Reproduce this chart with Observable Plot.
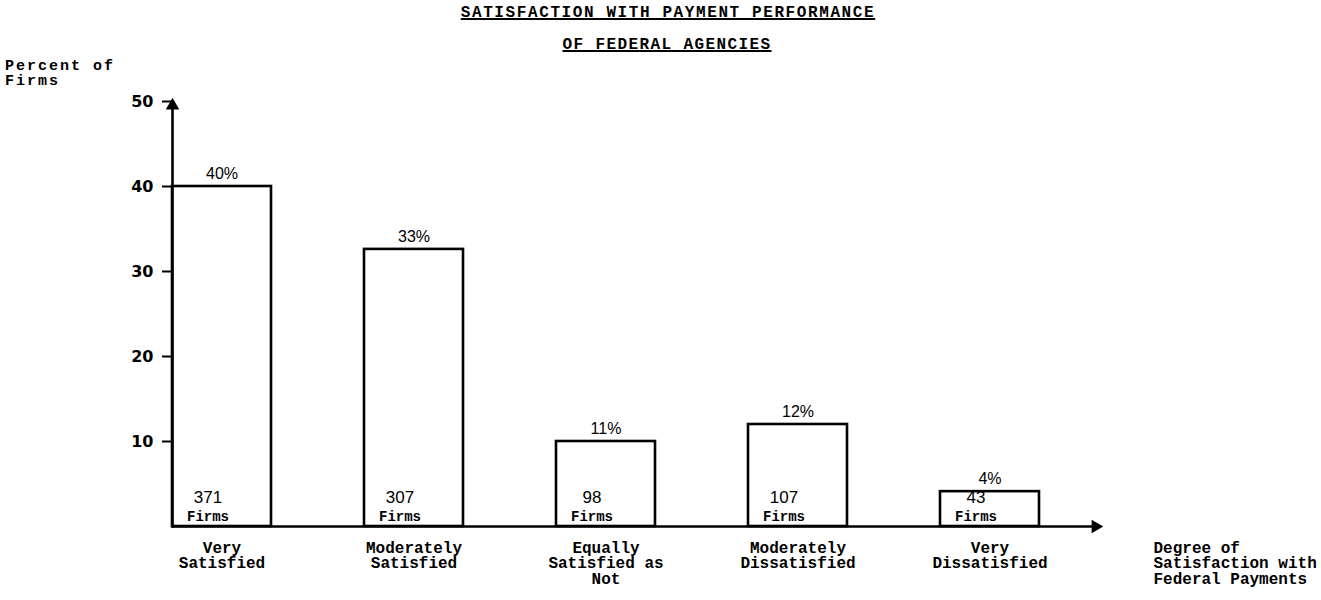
<!DOCTYPE html>
<html><head><meta charset="utf-8">
<script src="https://cdn.jsdelivr.net/npm/d3@7"></script>
<script src="https://cdn.jsdelivr.net/npm/@observablehq/plot@0.6"></script>
<style>
body{margin:0;background:#fff;}
#wrap{position:relative;width:1321px;height:600px;}
.t{position:absolute;font-family:"Liberation Mono",monospace;font-weight:bold;color:#000;white-space:pre;line-height:1;}
</style></head><body>
<div id="wrap"></div>
<script>
const titleLines = ["SATISFACTION WITH PAYMENT PERFORMANCE", "OF FEDERAL AGENCIES"];
const yAxisLabel = ["Percent of", "Firms"];
const xAxisLabel = "Degree of\nSatisfaction with\nFederal Payments";
const categories = ["Very\nSatisfied", "Moderately\nSatisfied", "Equally\nSatisfied as\nNot", "Moderately\nDissatisfied", "Very\nDissatisfied"];
const barHeights = [40, 32.6, 10, 12, 4.1];
const percentLabels = ["40%", "33%", "11%", "12%", "4%"];
const firmCounts = [371, 307, 98, 107, 43];
const yTicks = [10, 20, 30, 40, 50];

const data = categories.map((c, i) => ({category: c, height: barHeights[i], pct: percentLabels[i], firms: firmCounts[i]}));

const chart = Plot.plot({
  width: 1321, height: 600,
  marginLeft: 172, marginRight: 228, marginTop: 101, marginBottom: 74,
  style: {background: "white", color: "black", overflow: "visible"},
  x: {type: "band", domain: categories, paddingInner: 0.486, paddingOuter: 0.135, align: 0},
  y: {domain: [0, 50]},
  marks: [
    Plot.rectY(data, {x: "category", y: "height", fill: "white", stroke: "black", strokeWidth: 2.6}),
    Plot.ruleY([0], {strokeWidth: 2.6}),
    Plot.frame({anchor: "left", strokeWidth: 2.6}),
    Plot.dot([50], {y: d => d, frameAnchor: "left", symbol: "triangle", r: 5, fill: "black", stroke: null, dy: 4}),
    Plot.dot([0], {y: d => d, frameAnchor: "right", symbol: "triangle", r: 5, fill: "black", stroke: null, rotate: 90, dx: 2}),
    Plot.axisY(yTicks, {tickSize: 10, tickPadding: 9, strokeWidth: 2, fontSize: 16, fontWeight: "bold", fontFamily: "DejaVu Sans", label: null}),
    Plot.axisX({tickSize: 0, tickPadding: 15, fontSize: 16, fontFamily: "Liberation Mono", fontWeight: "bold", lineHeight: 0.97, label: null}),
    Plot.text(data, {x: "category", y: "height", text: "pct", dy: -13, fontSize: 16, fontFamily: "Liberation Sans"}),
    Plot.text(data, {x: "category", y: 0, text: d => String(d.firms), dy: -29, dx: -14, fontSize: 17, fontFamily: "Liberation Sans"}),
    Plot.text(data, {x: "category", y: 0, text: () => "Firms", dy: -10, dx: -14, fontSize: 14, fontWeight: "bold", fontFamily: "Liberation Mono"}),
    Plot.text([xAxisLabel], {text: d => d, frameAnchor: "bottom-right", dx: 60, dy: 15, textAnchor: "start", lineAnchor: "top", lineHeight: 0.97, fontSize: 16, fontWeight: "bold", fontFamily: "Liberation Mono"})
  ]
});
chart.style.position = "absolute";
chart.style.left = "0px";
chart.style.top = "0px";
const wrap = document.getElementById("wrap");
wrap.appendChild(chart);

function addText(txt, css) {
  const d = document.createElement("div");
  d.className = "t";
  d.textContent = txt;
  Object.assign(d.style, css);
  wrap.appendChild(d);
}
addText(titleLines[0], {left: "0px", width: "1336px", top: "5px", textAlign: "center", fontSize: "16px", letterSpacing: "1.6px", textDecoration: "underline", textDecorationThickness: "2px"});
addText(titleLines[1], {left: "0px", width: "1334px", top: "37px", textAlign: "center", fontSize: "16px", letterSpacing: "1.4px", textDecoration: "underline", textDecorationThickness: "2px"});
addText(yAxisLabel[0], {left: "5px", top: "59px", fontSize: "15px", letterSpacing: "2px"});
addText(yAxisLabel[1], {left: "5px", top: "74px", fontSize: "15px", letterSpacing: "2px"});
</script>
</body></html>
